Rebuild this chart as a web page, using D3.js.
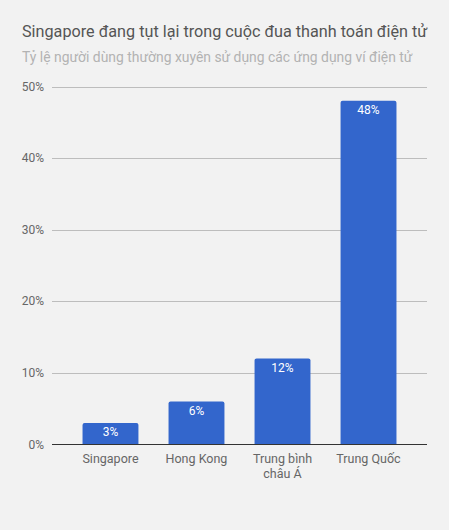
<!DOCTYPE html>
<html>
<head>
<meta charset="utf-8">
<script src="https://cdn.jsdelivr.net/npm/d3@7"></script>
<style>
  html, body { margin: 0; padding: 0; background: #f2f2f2; }
  svg { display: block; font-family: Roboto, "Noto Sans", sans-serif; }
</style>
</head>
<body>
<svg width="449" height="530"></svg>
<script>
var categories = [["Singapore"], ["Hong Kong"], ["Trung bình", "châu Á"], ["Trung Quốc"]];
var values = [3, 6, 12, 48];
var yTicks = [0, 10, 20, 30, 40, 50];

var title = "Singapore đang tụt lại trong cuộc đua thanh toán điện tử";
var subtitle = "Tỷ lệ người dùng thường xuyên sử dụng các ứng dụng ví điện tử";

var svg = d3.select("svg"),
    width = +svg.attr("width"),
    height = +svg.attr("height");

var plotLeft = 52, plotRight = 427, plotTop = 86.5, plotBottom = 444.5;

svg.append("rect").attr("width", width).attr("height", height).attr("fill", "#f2f2f2");

svg.append("text")
    .attr("x", 22).attr("y", 37)
    .attr("font-size", 16.2).attr("fill", "#555")
    .text(title);

svg.append("text")
    .attr("x", 22).attr("y", 62)
    .attr("font-size", 13.9).attr("fill", "#b3b3b3")
    .text(subtitle);

var x = d3.scaleBand()
    .domain(d3.range(values.length))
    .range([plotLeft, plotRight])
    .paddingInner(0.35)
    .paddingOuter(0.355);

var y = d3.scaleLinear().domain([0, 50]).range([plotBottom, plotTop]);

// grid
svg.append("g")
    .selectAll("line")
    .data(yTicks.filter(function(d) { return d > 0; }))
    .enter().append("line")
    .attr("x1", plotLeft).attr("x2", plotRight)
    .attr("y1", function(d) { return Math.round(y(d)) + 0.5; })
    .attr("y2", function(d) { return Math.round(y(d)) + 0.5; })
    .attr("stroke", "#bdbdbd");

svg.append("g")
    .selectAll("text")
    .data(yTicks)
    .enter().append("text")
    .attr("x", 44)
    .attr("y", function(d) { return y(d) + 4; })
    .attr("text-anchor", "end")
    .attr("font-size", 12).attr("fill", "#666")
    .text(function(d) { return d + "%"; });

// bars
svg.append("g")
    .selectAll("path")
    .data(values)
    .enter().append("path")
    .attr("d", function(d, i) {
        var x0 = x(i), x1 = x(i) + x.bandwidth(), y0 = y(d), y1 = y(0), r = 2;
        return "M" + x0 + "," + y1 + "V" + (y0 + r) + "Q" + x0 + "," + y0 + " " + (x0 + r) + "," + y0 +
            "H" + (x1 - r) + "Q" + x1 + "," + y0 + " " + x1 + "," + (y0 + r) + "V" + y1 + "Z";
    })
    .attr("fill", "#3366cc");

svg.append("g")
    .selectAll("text")
    .data(values)
    .enter().append("text")
    .attr("x", function(d, i) { return x(i) + x.bandwidth() / 2; })
    .attr("y", function(d) { return y(d) + 13; })
    .attr("text-anchor", "middle")
    .attr("font-size", 12).attr("fill", "#fff")
    .text(function(d) { return d + "%"; });

// baseline
svg.append("line")
    .attr("x1", plotLeft).attr("x2", plotRight)
    .attr("y1", plotBottom).attr("y2", plotBottom)
    .attr("stroke", "#333").attr("stroke-width", 1);

// category labels
var labels = svg.append("g")
    .selectAll("text")
    .data(categories)
    .enter().append("text")
    .attr("x", function(d, i) { return x(i) + x.bandwidth() / 2; })
    .attr("y", 463)
    .attr("text-anchor", "middle")
    .attr("font-size", 12.5).attr("fill", "#666");

labels.selectAll("tspan")
    .data(function(d) { return d; })
    .enter().append("tspan")
    .attr("x", function() { return d3.select(this.parentNode).attr("x"); })
    .attr("dy", function(d, j) { return j === 0 ? 0 : 15; })
    .text(function(d) { return d; });
</script>
</body>
</html>
